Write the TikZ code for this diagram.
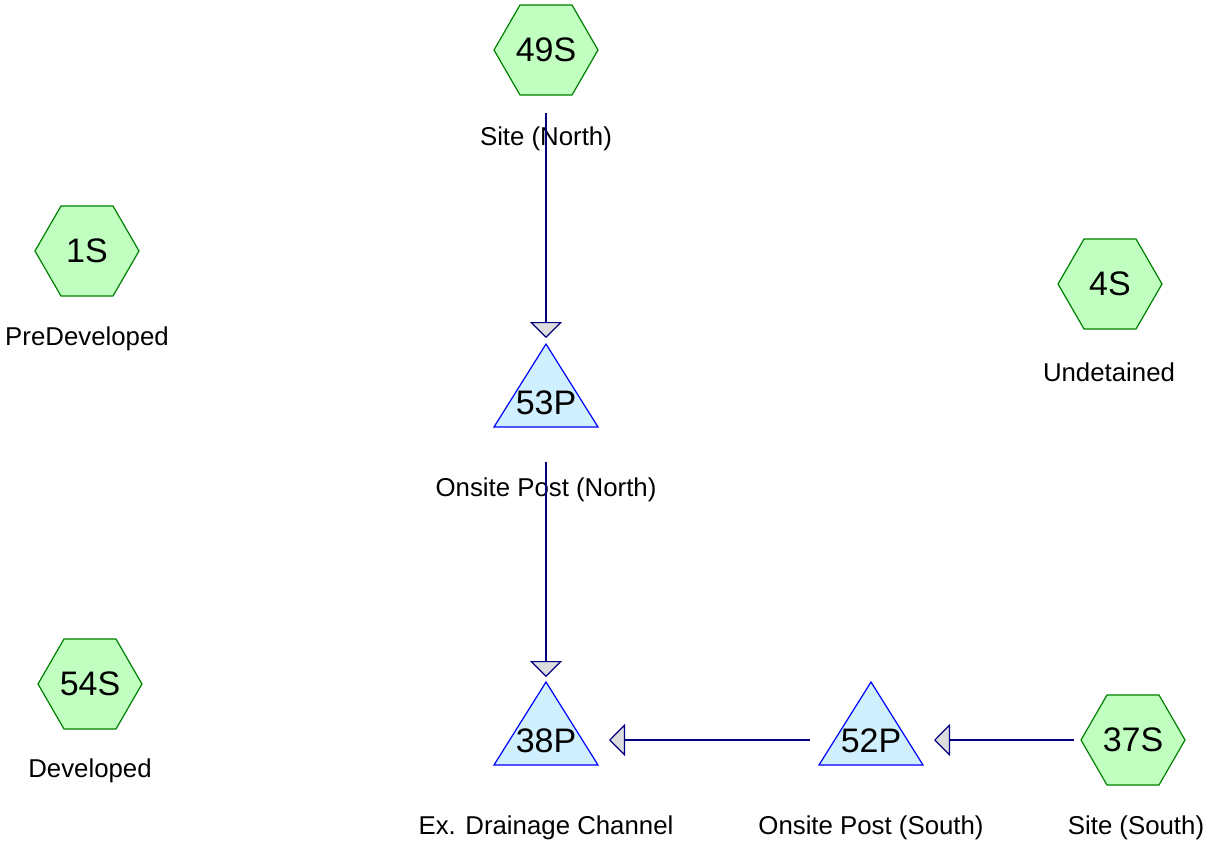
\documentclass[tikz,border=0pt]{standalone}
\usepackage{fontspec}
\setmainfont{Liberation Sans}
\usetikzlibrary{shapes.geometric,arrows.meta}
\definecolor{subfill}{HTML}{C0FFC0}
\definecolor{subline}{HTML}{008000}
\definecolor{pondfill}{HTML}{D0F0FF}
\definecolor{pondline}{HTML}{0000FF}
\definecolor{flowline}{HTML}{000080}
\definecolor{tipfill}{HTML}{DDDDDD}
\tikzset{
  subcat/.style={regular polygon, regular polygon sides=6, minimum size=104pt,
    inner sep=0pt, draw=subline, fill=subfill, line width=1.2pt,
    font=\fontsize{34}{37}\selectfont},
  pondshape/.style={draw=pondline, fill=pondfill, line width=1.2pt, line join=miter},
  pondid/.style={inner sep=0pt, font=\fontsize{34}{37}\selectfont},
  caption/.style={inner sep=0pt, font=\fontsize{25.8}{30}\selectfont},
  flow/.style={draw=flowline, line width=1.2pt,
    -{Triangle[length=16pt,width=32pt,fill=tipfill,line width=1.2pt]}},
}
% pond: triangle outline drawn first, then its named id text
\newcommand\pondnode[3]{%
  \path[pondshape] (#2) ++(-52,24) -- ++(52,-83) -- ++(52,83) -- cycle;
  \node[pondid] (#1) at (#2) {#3};}
\begin{document}
\begin{tikzpicture}[x=1pt,y=-1pt]
\useasboundingbox (0,0) rectangle (1207,845);

% subcatchments
\node[subcat] (s49) at (546,50) {49S};
\node[subcat] (s1)  at (87,251) {1S};
\node[subcat] (s4)  at (1110,284) {4S};
\node[subcat] (s54) at (90,684) {54S};
\node[subcat] (s37) at (1133,740) {37S};

% ponds
\pondnode{p53}{546,403}{53P}
\pondnode{p38}{546,741}{38P}
\pondnode{p52}{871,741}{52P}

% captions
\node[caption] (c49) at (546,139) {Site (North)};
\node[caption] (c1)  at (87,339) {PreDeveloped};
\node[caption] (c4)  at (1109,372) {Undetained};
\node[caption] (c53) at (546,490) {Onsite Post (North)};
\node[caption] (c54) at (90,771) {Developed};
\node[caption] (c38) at (546,828) {Ex. Drainage Channel};
\node[caption] (c52) at (871,828) {Onsite Post (South)};
\node[caption] (c37) at (1136,828) {Site (South)};

% routing
\draw[flow, shorten <=63pt, shorten >=65pt] (s49.center) -- (p53.center);
\draw[flow, shorten <=59pt, shorten >=64pt] (p53.center) -- (p38.center);
\draw[flow, shorten <=61pt, shorten >=63pt] ([yshift=1pt]p52.center) -- ([yshift=1pt]p38.center);
\draw[flow, shorten <=59pt, shorten >=63pt] (s37.center) -- ([yshift=1pt]p52.center);
\end{tikzpicture}
\end{document}
